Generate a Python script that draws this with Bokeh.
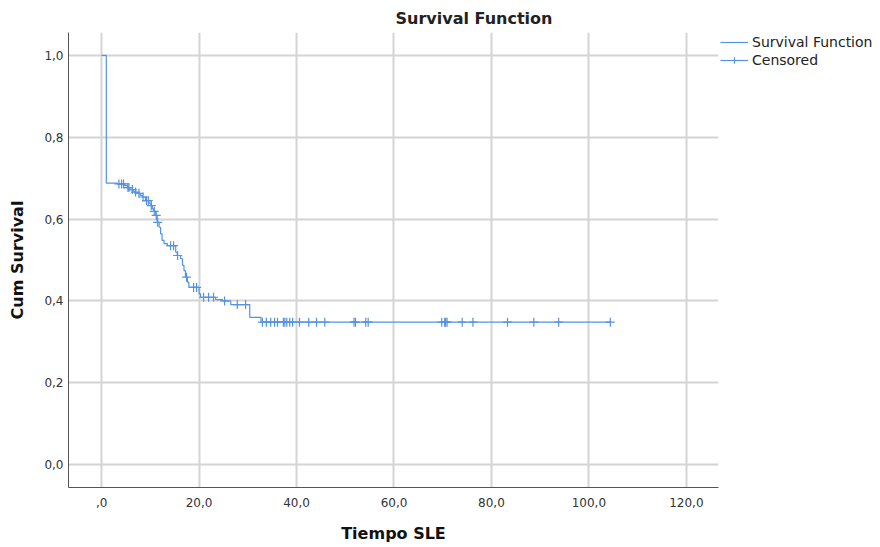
from bokeh.plotting import figure
from bokeh.models import Range1d, FixedTicker, Legend, LegendItem, ColumnDataSource
from bokeh.embed import file_html
from bokeh.resources import INLINE

# Kaplan-Meier step curve (time, cumulative survival after the step)
step_time = [0, 0.96, 3.2, 4.7, 5.3, 5.8, 6.6, 7.2, 7.9, 8.4, 9.0, 9.7, 10.1, 10.4,
             10.7, 11.1, 11.4, 11.8, 12.1, 12.4, 12.8, 13.5, 15.2, 15.5, 16.2, 16.6,
             16.9, 17.2, 17.6, 17.9, 20.0, 20.3, 23.4, 24.8, 26.5, 30.4, 32.7, 104.4]
step_surv = [1.0, 0.688, 0.686, 0.682, 0.677, 0.672, 0.666, 0.663, 0.658, 0.654, 0.645,
             0.639, 0.633, 0.625, 0.619, 0.609, 0.592, 0.580, 0.564, 0.548, 0.540, 0.535,
             0.519, 0.511, 0.503, 0.487, 0.474, 0.458, 0.446, 0.433, 0.417, 0.409, 0.403,
             0.400, 0.391, 0.360, 0.348, 0.348]

# Censored observations
cens_time = [3.55, 4.1, 4.5, 5.4, 5.6, 6.3, 6.97, 7.65, 8.5, 9.2, 9.58, 10.2, 10.8, 11.2,
             11.5, 14.15, 14.77, 15.6, 17.44, 18.87, 19.49, 20.92, 21.95, 22.97, 25.23,
             27.84, 29.54,
             33.0, 33.8, 34.7, 35.5, 36.1, 37.3, 37.6, 38.0, 38.6, 39.2, 40.6, 42.5, 44.1,
             45.8, 51.8, 52.1, 54.2, 54.7, 69.8, 70.4, 70.6, 70.9, 74.0, 76.2, 83.3, 88.7,
             93.8, 104.4]
cens_surv = [0.686, 0.686, 0.686, 0.677, 0.677, 0.672, 0.666, 0.663, 0.654, 0.645, 0.645,
             0.633, 0.619, 0.609, 0.592, 0.535, 0.535, 0.511, 0.458, 0.433, 0.433, 0.409,
             0.409, 0.409, 0.400, 0.391, 0.391] + [0.348] * 28

x_ticks = [0, 20, 40, 60, 80, 100, 120]
x_tick_labels = [",0", "20,0", "40,0", "60,0", "80,0", "100,0", "120,0"]
y_ticks = [0.0, 0.2, 0.4, 0.6, 0.8, 1.0]
y_tick_labels = ["0,0", "0,2", "0,4", "0,6", "0,8", "1,0"]

BLUE = "#5592e0"
FONT = "DejaVu Sans"

p = figure(frame_width=650, frame_height=455, output_backend="svg", toolbar_location=None,
           x_range=Range1d(-6.8, 126.6), y_range=Range1d(-0.056, 1.056),
           min_border_left=68, min_border_right=162, min_border_top=32,
           min_border_bottom=60)

p.title.text = "Survival Function"
p.title.text_font = FONT
p.title.text_font_size = "16px"
p.title.text_font_style = "bold"
p.title.text_color = "#222222"
p.title.align = "left"
p.title.offset = 327

p.outline_line_color = None
p.background_fill_color = "white"

for ax in (p.xaxis[0], p.yaxis[0]):
    ax.axis_line_color = "#555555"
    ax.axis_line_width = 1
    ax.major_tick_out = 0
    ax.major_tick_in = 0
    ax.minor_tick_out = 0
    ax.minor_tick_in = 0
    ax.major_label_text_font = FONT
    ax.major_label_text_font_size = "12px"
    ax.major_label_text_color = "#333333"
    ax.axis_label_text_font = FONT
    ax.axis_label_text_font_size = "16px"
    ax.axis_label_text_font_style = "bold"
    ax.axis_label_text_color = "#111111"

p.xaxis.ticker = FixedTicker(ticks=x_ticks)
p.xaxis.major_label_overrides = dict(zip(x_ticks, x_tick_labels))
p.yaxis.ticker = FixedTicker(ticks=y_ticks)
p.yaxis.major_label_overrides = dict(zip(y_ticks, y_tick_labels))
p.xaxis.axis_label = "Tiempo SLE"
p.yaxis.axis_label = "Cum Survival"
p.xaxis.major_label_standoff = 10
p.yaxis.major_label_standoff = 5
p.xaxis.axis_label_standoff = 14
p.yaxis.axis_label_standoff = 14

p.grid.grid_line_color = "#d4d4d4"
p.grid.grid_line_width = 2

step_src = ColumnDataSource(dict(t=step_time, s=step_surv))
cens_src = ColumnDataSource(dict(t=cens_time, s=cens_surv))

r_step = p.step("t", "s", source=step_src, mode="after", line_color=BLUE, line_width=1.2)
r_cens = p.scatter("t", "s", source=cens_src, marker="cross", size=9,
                   line_color=BLUE, line_width=1.2)

legend = Legend(items=[LegendItem(label="Survival Function", renderers=[r_step]),
                       LegendItem(label="Censored", renderers=[r_step, r_cens])],
                location="top_left", margin=0, padding=2, spacing=2,
                glyph_width=28, glyph_height=16, label_standoff=4,
                label_text_font=FONT, label_text_font_size="14px",
                label_text_color="#222222", border_line_alpha=0,
                background_fill_alpha=0)
p.add_layout(legend, "right")

open("out.html", "w").write(file_html(p, INLINE))
